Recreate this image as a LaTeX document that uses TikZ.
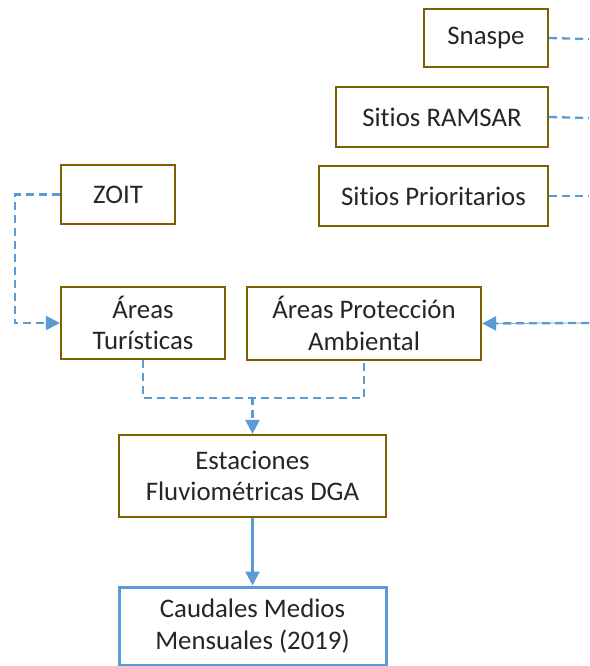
\documentclass[tikz,border=0pt]{standalone}
\usepackage{fontspec}
\setmainfont{Carlito}[Ligatures={NoCommon}]
\usetikzlibrary{arrows.meta,calc}
\definecolor{boxbrown}{HTML}{7F6000}
\definecolor{lineblue}{HTML}{5B9BD5}
\definecolor{txt}{HTML}{262626}
\begin{document}
\begin{tikzpicture}[x=1pt,y=-1pt,
  box/.style={draw=boxbrown,line width=2.2pt,fill=white,text=txt,align=center,inner sep=0pt,
    font=\fontsize{26.8pt}{31.5pt}\selectfont},
  bluebox/.style={box,draw=lineblue,line width=3pt},
  dsh/.style={draw=lineblue,line width=2.3pt,dash pattern=on 8pt off 5pt},
  dsharrow/.style={dsh,-{Triangle[length=14pt,width=14pt]}},
  solarrow/.style={draw=lineblue,line width=2.3pt,-{Triangle[length=14pt,width=14pt]}}]
\useasboundingbox (0,0) rectangle (589,666);
\node[box,minimum width=124pt,minimum height=58pt] (snaspe) at (486,38) {Snaspe};
\node[box,minimum width=212pt,minimum height=60pt] (ramsar) at (442,117) {Sitios RAMSAR};
\node[box,minimum width=229pt,minimum height=60pt] (prior) at (433.5,196) {Sitios Prioritarios};
\node[box,minimum width=114pt,minimum height=59pt] (zoit) at (118,194.5) {ZOIT};
\node[box,minimum width=164pt,minimum height=72pt] (tur) at (143,323) {Áreas\\Turísticas};
\node[box,minimum width=234pt,minimum height=73pt] (apa) at (364,323.5) {Áreas Protección\\Ambiental};
\node[box,minimum width=267pt,minimum height=82pt] (est) at (252.5,476) {Estaciones\\Fluviométricas DGA};
\node[bluebox,minimum width=267pt,minimum height=78pt] (cau) at (252.5,626) {Caudales Medios\\Mensuales (2019)};
\coordinate (e1) at (589,39);
\coordinate (e2) at (589,118);
\coordinate (e3) at (589,196);
\coordinate (e4) at (589,323);
\coordinate (merge) at (252.5,397);
\draw[dsh] (snaspe.east) -- (e1);
\draw[dsh] (ramsar.east) -- (e2);
\draw[dsh] (prior.east) -- (e3);
\draw[dsh,line width=1pt,dash phase=6pt,opacity=0.7] (e4) -- (apa.east);
\draw[dsharrow] (e4) -- (apa.east);
\draw[dsharrow] (zoit.west) -- ++(-45,0) |- (tur.west);
\draw[dsh] (tur.south) -- ++(0,38) -| (apa.south);
\draw[dsharrow] (merge) -- (est.north);
\draw[solarrow] (est.south) -- (cau.north);
\end{tikzpicture}
\end{document}
